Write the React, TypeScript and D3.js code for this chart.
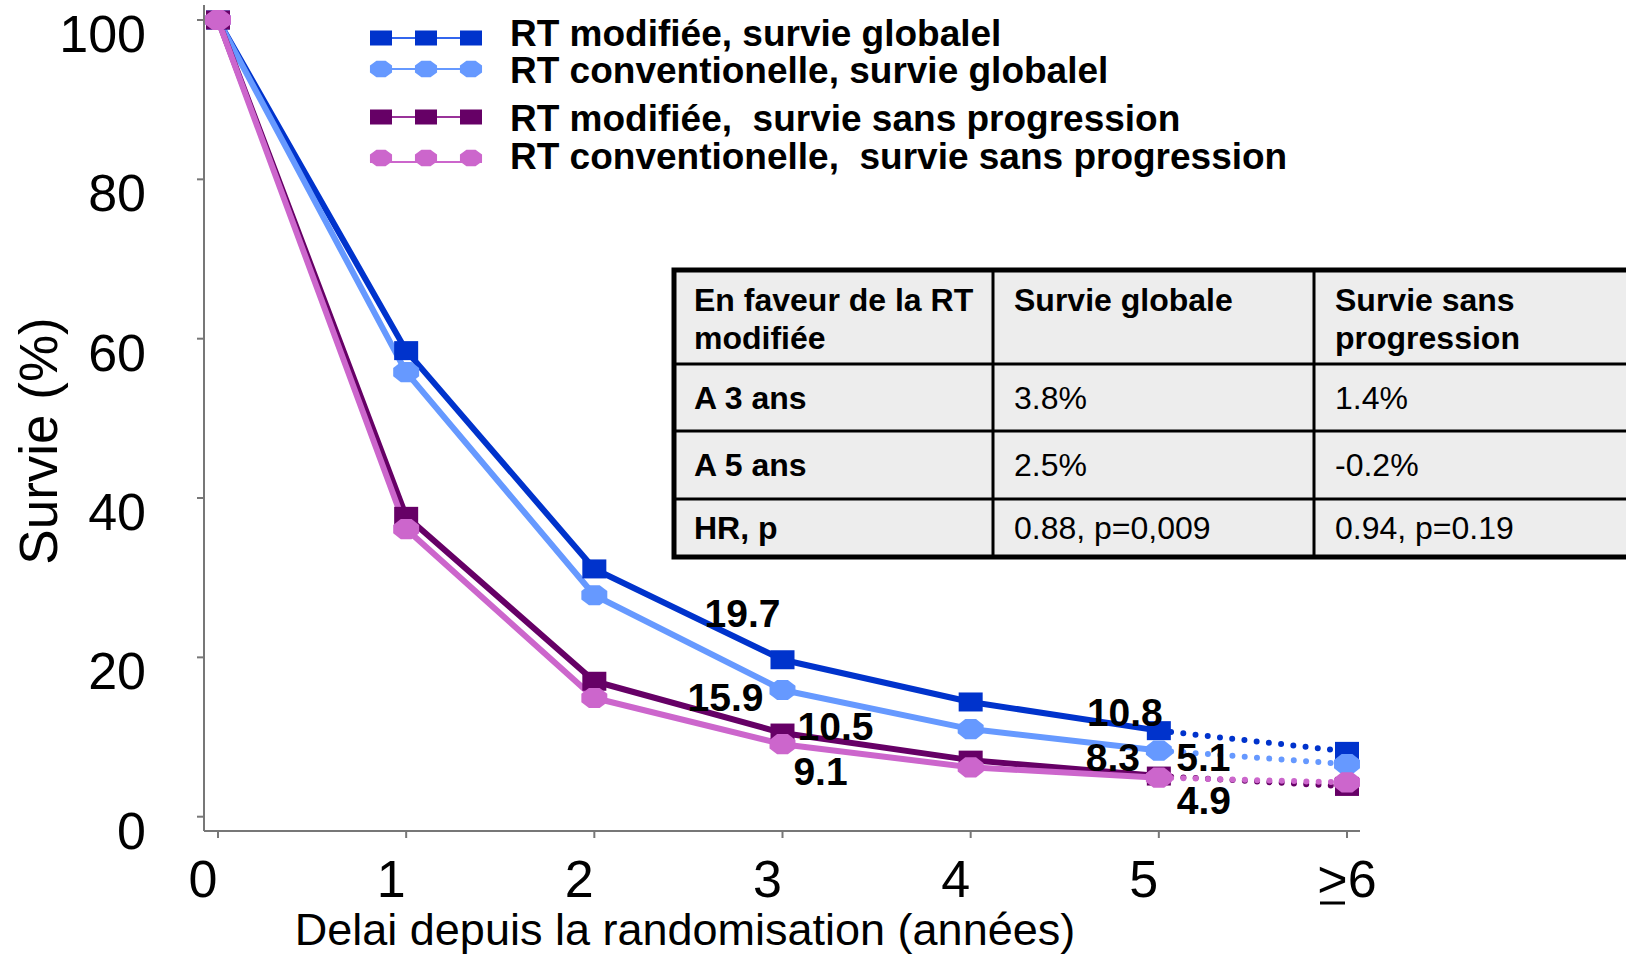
import React from "react";
import * as d3 from "d3";

const xLabels = ["0", "1", "2", "3", "4", "5", "≥6"];
const yTicks = [0, 20, 40, 60, 80, 100];

const seriesNames = [
  "RT modifiée, survie globalel",
  "RT conventionelle, survie globalel",
  "RT modifiée,  survie sans progression",
  "RT conventionelle,  survie sans progression",
];
const modOS = [100, 58.5, 31.1, 19.7, 14.4, 10.8, 8.2];
const convOS = [100, 55.8, 27.8, 15.9, 11.0, 8.3, 6.6];
const modPFS = [100, 37.7, 17.0, 10.5, 7.1, 5.1, 3.8];
const convPFS = [100, 36.1, 14.9, 9.1, 6.2, 4.9, 4.3];

const annotations = [
  { s: 0, i: 3, text: "19.7" },
  { s: 1, i: 3, text: "15.9" },
  { s: 2, i: 3, text: "10.5" },
  { s: 3, i: 3, text: "9.1" },
  { s: 0, i: 5, text: "10.8" },
  { s: 1, i: 5, text: "8.3" },
  { s: 2, i: 5, text: "5.1" },
  { s: 3, i: 5, text: "4.9" },
];

const tableHeader = [["En faveur de la RT", "modifiée"], ["Survie globale"], ["Survie sans", "progression"]];
const tableRows = [
  ["A 3 ans", "3.8%", "1.4%"],
  ["A 5 ans", "2.5%", "-0.2%"],
  ["HR, p", "0.88, p=0,009", "0.94, p=0.19"],
];

const FONT = "'Liberation Sans', Arial, Helvetica, sans-serif";

export default function App() {
  const W = 1626, H = 957;
  const x = d3.scaleLinear().domain([0, 6]).range([218, 1347]);
  const y = d3.scaleLinear().domain([0, 100]).range([816.7, 20]);

  const series = [
    { data: modOS, color: "#0033cc", legendLine: "#3366ee", shape: "square" },
    { data: convOS, color: "#6699ff", legendLine: "#6699ff", shape: "circle" },
    { data: modPFS, color: "#660066", legendLine: "#993399", shape: "square" },
    { data: convPFS, color: "#cc66cc", legendLine: "#cc66cc", shape: "circle" },
  ];

  // label offsets relative to the annotated point
  const annOffsets = [
    [-40, -33], [-57, 21], [53, 7], [38, 41],
    [-34, -5], [-46, 20], [44.5, -5.5], [45, 36],
  ];

  const line = d3.line<number>().x((_, i) => x(i)).y((d) => y(d));
  const solidPart = (d: number[]) => line(d.slice(0, 6)) as string;
  const dotPart = (d: number[]) =>
    d3.line<number>().x((_, i) => x(i + 5)).y((v) => y(v))(d.slice(5)) as string;

  const marker = (shape: string, cx: number, cy: number, color: string, w: number, h: number, key: string) => {
    if (shape === "square") {
      return <rect key={key} x={cx - w / 2} y={cy - h / 2} width={w} height={h} fill={color} />;
    }
    const rx = w / 2, ry = h / 2;
    const pts = d3.range(8).map((k) => {
      const a = (Math.PI / 8) + (k * Math.PI) / 4;
      return [cx + rx * Math.cos(a) * 1.04, cy + ry * Math.sin(a) * 1.04].join(",");
    });
    return <polygon key={key} points={pts.join(" ")} fill={color} />;
  };

  const axisColor = "#777";
  const xAxisY = 831;
  const yAxisX = 204;

  // table geometry
  const tX = 674, tY = 270, tR = 1640, tB = 557;
  const colX = [tX, 993, 1314];
  const rowY = [tY, 364, 431, 499, tB];
  const textX = [694, 1014, 1335];

  const legendX = [381, 426, 471];
  const legendY = [38, 69, 117, 158];
  const legendBase = [46, 83, 131, 169];

  return (
    <svg width={W} height={H} style={{ position: "absolute", left: 0, top: 0, background: "#fff" }} fontFamily={FONT}>
      <rect x={0} y={0} width={W} height={H} fill="#fff" />

      {/* axes */}
      <line x1={yAxisX} y1={5} x2={yAxisX} y2={xAxisY} stroke={axisColor} strokeWidth={2} />
      <line x1={yAxisX} y1={xAxisY} x2={1360} y2={xAxisY} stroke={axisColor} strokeWidth={2} />
      {yTicks.map((t) => (
        <g key={"yt" + t}>
          <line x1={yAxisX - 7} x2={yAxisX} y1={y(t)} y2={y(t)} stroke={axisColor} strokeWidth={2} />
          <text x={146} y={y(t) + 32} textAnchor="end" fontSize={52} fill="#000">{t}</text>
        </g>
      ))}
      {xLabels.map((lab, i) => (
        <g key={"xt" + i}>
          <line x1={x(i)} x2={x(i)} y1={xAxisY} y2={xAxisY + 7} stroke={axisColor} strokeWidth={2} />
          {lab === "≥6" ? (
            <g>
              <text x={x(i)} y={897} textAnchor="middle" fontSize={52} fill="#000">&gt;6</text>
              <line x1={x(i) - 27} x2={x(i) - 2} y1={903} y2={903} stroke="#000" strokeWidth={3} />
            </g>
          ) : (
            <text x={x(i) - 15} y={897} textAnchor="middle" fontSize={52} fill="#000">{lab}</text>
          )}
        </g>
      ))}
      <text x={685} y={945} textAnchor="middle" fontSize={45} fill="#000">Delai depuis la randomisation (années)</text>
      <text transform="translate(57,441) rotate(-90)" textAnchor="middle" fontSize={53} fill="#000">Survie (%)</text>

      {/* series lines */}
      {series.map((s, k) => (
        <g key={"ln" + k}>
          <path d={solidPart(s.data)} fill="none" stroke={s.color} strokeWidth={6} strokeLinejoin="round" />
          <path d={dotPart(s.data)} fill="none" stroke={s.color} strokeWidth={6} strokeLinecap="round" strokeDasharray="0 12.3" />
        </g>
      ))}
      {series.map((s, k) => (
        <g key={"mk" + k}>
          {s.data.map((v, i) =>
            marker(s.shape, x(i), y(v), s.color, s.shape === "square" ? 24 : 27, s.shape === "square" ? 19 : 21, k + "-" + i)
          )}
        </g>
      ))}

      {/* annotations */}
      {annotations.map((a, j) => {
        const d = series[a.s].data;
        return (
          <text key={"an" + j} x={x(a.i) + annOffsets[j][0]} y={y(d[a.i]) + annOffsets[j][1]} textAnchor="middle" fontSize={39} fontWeight="bold" fill="#000">
            {a.text}
          </text>
        );
      })}

      {/* legend */}
      {series.map((s, k) => (
        <g key={"lg" + k}>
          <line x1={370} x2={482} y1={legendY[k] + (k === 3 ? 4 : 0)} y2={legendY[k] + (k === 3 ? 4 : 0)} stroke={s.legendLine} strokeWidth={2} />
          {legendX.map((lx, m) => marker(s.shape, lx, legendY[k], s.color, s.shape === "square" ? 22 : 23, s.shape === "square" ? 15 : 17, "l" + k + m))}
          <text x={510} y={legendBase[k]} fontSize={37} fontWeight="bold" fill="#000" style={{ whiteSpace: "pre" }}>
            {seriesNames[k]}
          </text>
        </g>
      ))}

      {/* table */}
      <rect x={tX} y={tY} width={tR - tX} height={tB - tY} fill="#ededed" />
      {rowY.slice(1, -1).map((ry, k) => (
        <line key={"rl" + k} x1={tX} x2={tR} y1={ry} y2={ry} stroke="#000" strokeWidth={3} />
      ))}
      {colX.slice(1).map((cx, k) => (
        <line key={"cl" + k} x1={cx} x2={cx} y1={tY} y2={tB} stroke="#000" strokeWidth={3} />
      ))}
      <rect x={tX} y={tY} width={tR - tX} height={tB - tY} fill="none" stroke="#000" strokeWidth={5} />
      {tableHeader.map((lines, c) => (
        <text key={"th" + c} x={textX[c]} y={311} fontSize={32} fontWeight="bold" fill="#000">
          {lines.map((ln, li) => (
            <tspan key={li} x={textX[c]} dy={li === 0 ? 0 : 38}>{ln}</tspan>
          ))}
        </text>
      ))}
      {tableRows.map((row, r) =>
        row.map((cell, c) => (
          <text key={"td" + r + c} x={textX[c]} y={(rowY[r + 1] + rowY[r + 2]) / 2 + 11} fontSize={32} fontWeight={c === 0 ? "bold" : "normal"} fill="#000">
            {cell}
          </text>
        ))
      )}
    </svg>
  );
}
